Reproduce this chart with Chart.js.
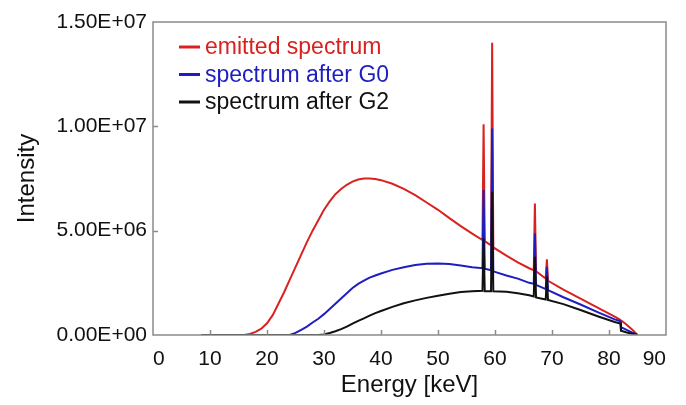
<!DOCTYPE html>
<html>
<head>
<meta charset="utf-8">
<script src="https://cdn.jsdelivr.net/npm/chart.js@4.4.1/dist/chart.umd.min.js"></script>
<style>
  html, body { margin: 0; padding: 0; background: #fff; }
  #wrap { width: 686px; height: 405px; }
</style>
</head>
<body>
<div id="wrap"><canvas id="grafico"></canvas></div>
<script>
// energia en keV, intensidades en millones (1E+06)
const energia = [8.5, 10, 12, 14, 16, 17, 18, 19, 20, 21, 22, 23, 24, 25, 26, 27, 28, 29, 30,
  31, 32, 33, 34, 35, 36, 37, 38, 39, 40, 42, 44, 46, 48, 50, 52, 54, 56,
  57.8, 58.0, 58.2, 59.3, 59.5, 59.7, 62, 64, 66, 66.8, 67.0, 67.2, 68.9, 69.1, 69.3,
  72, 75, 78, 81, 82, 82.1, 83, 84, 85];

const emitido = [0, 0, 0, 0, 0, 0.05, 0.15, 0.3, 0.56, 0.95, 1.5, 2.05, 2.65, 3.25, 3.85, 4.45, 5.0, 5.5, 6.0,
  6.4, 6.75, 7.0, 7.2, 7.35, 7.45, 7.5, 7.5, 7.48, 7.42, 7.25, 7.0, 6.7, 6.35, 6.0, 5.6, 5.22, 4.86,
  4.55, 10.1, 4.5, 4.3, 14.0, 4.2, 3.8, 3.48, 3.2, 3.1, 6.3, 3.05, 2.7, 3.63, 2.6,
  2.17, 1.74, 1.31, 0.88, 0.72, 0.71, 0.52, 0.28, 0];

const despuesG0 = [0, 0, 0, 0, 0, 0, 0, 0, 0, 0, 0, 0, 0, 0.1, 0.25, 0.4, 0.6, 0.78, 1.0,
  1.25, 1.5, 1.75, 2.0, 2.25, 2.45, 2.6, 2.75, 2.85, 2.95, 3.12, 3.25, 3.35, 3.42, 3.43, 3.4, 3.33, 3.25,
  3.2, 6.95, 3.18, 3.1, 9.9, 3.05, 2.85, 2.7, 2.5, 2.45, 4.87, 2.4, 2.2, 3.27, 2.15,
  1.81, 1.46, 1.1, 0.75, 0.66, 0.38, 0.26, 0.13, 0];

const despuesG2 = [0, 0, 0, 0, 0, 0, 0, 0, 0, 0, 0, 0, 0, 0, 0, 0, 0, 0, 0.03,
  0.1, 0.18, 0.28, 0.4, 0.55, 0.68, 0.8, 0.93, 1.05, 1.15, 1.35, 1.52, 1.66, 1.78, 1.88, 1.98, 2.06, 2.1,
  2.12, 4.63, 2.1, 2.1, 6.87, 2.1, 2.07, 2.0, 1.9, 1.85, 3.75, 1.8, 1.7, 2.8, 1.68,
  1.48, 1.2, 0.9, 0.62, 0.55, 0.2, 0.13, 0.06, 0];

const series = ['emitted spectrum', 'spectrum after G0', 'spectrum after G2'];
const colores = ['#d9221f', '#1e1ec0', '#111111'];
const valores = [emitido, despuesG0, despuesG2];

const fuente = "'Liberation Sans', Arial, sans-serif";

// 5 -> "5.00E+06"
function formatoE(v) {
  const n = v * 1e6;
  if (n === 0) return '0.00E+00';
  const exp = Math.floor(Math.log10(n));
  const man = (n / Math.pow(10, exp)).toFixed(2);
  return man + 'E+' + String(exp).padStart(2, '0');
}

// marco, marcas hacia dentro y leyenda
const marcoYLeyenda = {
  id: 'marcoYLeyenda',
  afterDatasetsDraw(chart) {
    const { ctx, chartArea: a, scales } = chart;
    ctx.save();
    ctx.strokeStyle = '#8a8a8a';
    ctx.lineWidth = 1.5;
    ctx.strokeRect(a.left, a.top, a.right - a.left, a.bottom - a.top);
    ctx.beginPath();
    scales.x.ticks.forEach(t => {
      if (t.value <= 0 || t.value >= 90) return;
      const px = Math.round(scales.x.getPixelForValue(t.value)) + 0.5;
      ctx.moveTo(px, a.bottom);
      ctx.lineTo(px, a.bottom - 5);
    });
    scales.y.ticks.forEach(t => {
      if (t.value <= 0 || t.value >= 15) return;
      const py = Math.round(scales.y.getPixelForValue(t.value)) + 0.5;
      ctx.moveTo(a.left, py);
      ctx.lineTo(a.left + 5, py);
    });
    ctx.stroke();

    ctx.font = '23px ' + fuente;
    ctx.textBaseline = 'middle';
    chart.data.datasets.forEach((ds, i) => {
      const y = a.top + 25 + i * 27.5;
      ctx.strokeStyle = ds.borderColor;
      ctx.lineWidth = 3;
      ctx.beginPath();
      ctx.moveTo(a.left + 26, y);
      ctx.lineTo(a.left + 47, y);
      ctx.stroke();
      ctx.fillStyle = ds.borderColor;
      ctx.fillText(ds.label, a.left + 52, y + 1);
    });
    ctx.restore();
  }
};

new Chart(document.getElementById('grafico'), {
  type: 'line',
  data: {
    datasets: series.map((nombre, i) => ({
      label: nombre,
      data: energia.map((e, k) => ({ x: e, y: valores[i][k] })),
      borderColor: colores[i],
      borderWidth: 2,
      pointRadius: 0,
      tension: 0,
      fill: false,
      order: 3 - i
    }))
  },
  options: {
    responsive: true,
    maintainAspectRatio: false,
    animation: false,
    layout: { padding: { top: 22, right: 20, left: 0, bottom: 0 } },
    plugins: {
      legend: { display: false },
      tooltip: { enabled: false }
    },
    scales: {
      x: {
        type: 'linear',
        min: 0,
        max: 90,
        grid: { display: false, drawTicks: false },
        border: { display: false },
        ticks: {
          stepSize: 10,
          align: 'inner',
          padding: 12,
          color: '#111',
          font: { family: fuente, size: 21 },
          maxRotation: 0
        },
        title: {
          display: true,
          text: 'Energy [keV]',
          color: '#111',
          font: { family: fuente, size: 24 },
          padding: { top: 0, bottom: 5 }
        },
        afterFit: s => { s.height = 70; }
      },
      y: {
        min: 0,
        max: 15,
        grid: { display: false, drawTicks: false },
        border: { display: false },
        ticks: {
          stepSize: 5,
          padding: 6,
          color: '#111',
          font: { family: fuente, size: 21 },
          callback: v => formatoE(v)
        },
        title: {
          display: true,
          text: 'Intensity',
          color: '#111',
          font: { family: fuente, size: 24 },
          padding: { top: 13, bottom: 0 }
        },
        afterFit: s => { s.width = 153; }
      }
    }
  },
  plugins: [marcoYLeyenda]
});
</script>
</body>
</html>
